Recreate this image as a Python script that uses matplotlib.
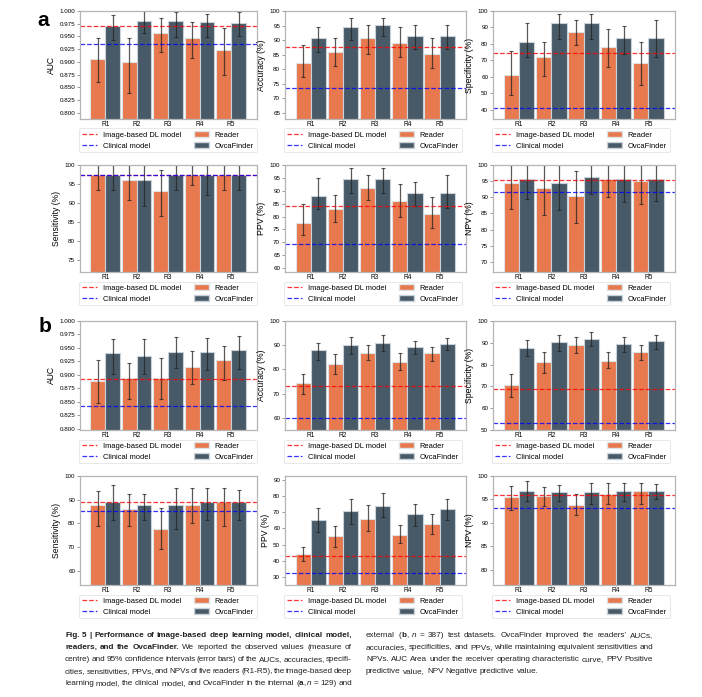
import numpy as np
import matplotlib
matplotlib.use("Agg")
import matplotlib.pyplot as plt
from matplotlib.transforms import IdentityTransform
from matplotlib.lines import Line2D
from matplotlib.patches import Patch

plt.rcParams["font.family"] = ["Liberation Sans", "DejaVu Sans"]

readers = ["R1", "R2", "R3", "R4", "R5"]

# ---- internal test set (a), n = 129 ----
a_auc_reader = [0.906, 0.900, 0.957, 0.946, 0.924]
a_auc_reader_lo = [0.860, 0.839, 0.919, 0.907, 0.874]
a_auc_reader_hi = [0.946, 0.946, 0.987, 0.978, 0.967]
a_auc_ovca = [0.970, 0.980, 0.981, 0.978, 0.976]
a_auc_ovca_lo = [0.942, 0.956, 0.948, 0.948, 0.950]
a_auc_ovca_hi = [0.993, 1.000, 0.998, 0.994, 0.998]
a_auc_dl, a_auc_clin = 0.970, 0.935

a_acc_reader = [82.2, 86.0, 90.7, 89.1, 85.3]
a_acc_reader_lo = [77.3, 81.2, 85.3, 84.3, 80.5]
a_acc_reader_hi = [88.3, 90.6, 95.2, 94.6, 90.6]
a_acc_ovca = [90.7, 94.6, 95.3, 91.5, 91.5]
a_acc_ovca_lo = [86.0, 89.9, 91.4, 86.8, 86.8]
a_acc_ovca_hi = [94.5, 97.6, 97.6, 95.3, 95.3]
a_acc_dl, a_acc_clin = 87.6, 73.6

a_spec_reader = [61.0, 72.0, 87.0, 78.0, 68.3]
a_spec_reader_lo = [49.2, 60.2, 79.2, 66.0, 54.8]
a_spec_reader_hi = [75.6, 81.0, 94.4, 88.8, 81.0]
a_spec_ovca = [81.4, 92.5, 92.5, 83.3, 83.3]
a_spec_ovca_lo = [71.8, 82.8, 82.8, 73.6, 71.8]
a_spec_ovca_hi = [92.6, 98.0, 98.0, 90.8, 94.4]
a_spec_dl, a_spec_clin = 74.2, 40.7

a_sens_reader = [97.3, 96.0, 93.3, 97.3, 97.3]
a_sens_reader_lo = [93.4, 90.8, 86.7, 94.7, 93.4]
a_sens_reader_hi = [100.0, 100.0, 98.7, 100.0, 100.0]
a_sens_ovca = [97.3, 96.0, 97.3, 97.3, 97.3]
a_sens_ovca_lo = [93.4, 89.3, 93.4, 92.1, 93.4]
a_sens_ovca_hi = [100.0, 100.0, 100.0, 100.0, 100.0]
a_sens_dl, a_sens_clin = 97.3, 97.3

a_ppv_reader = [77.6, 82.8, 91.0, 85.9, 81.1]
a_ppv_reader_lo = [73.0, 77.8, 86.3, 80.0, 75.4]
a_ppv_reader_hi = [85.0, 88.2, 96.0, 92.5, 87.5]
a_ppv_ovca = [88.0, 94.7, 94.7, 89.0, 89.0]
a_ppv_ovca_lo = [83.0, 89.0, 89.0, 84.0, 83.2]
a_ppv_ovca_hi = [95.0, 98.8, 98.8, 93.6, 96.0]
a_ppv_dl, a_ppv_clin = 84.0, 69.5

a_npv_reader = [94.3, 92.9, 90.3, 95.6, 94.9]
a_npv_reader_lo = [86.4, 84.4, 82.0, 90.0, 87.8]
a_npv_reader_hi = [100.0, 100.0, 98.0, 100.0, 100.0]
a_npv_ovca = [95.7, 94.3, 96.3, 95.7, 95.7]
a_npv_ovca_lo = [89.6, 86.2, 91.0, 88.4, 89.0]
a_npv_ovca_hi = [100.0, 100.0, 100.0, 100.0, 100.0]
a_npv_dl, a_npv_clin = 95.3, 91.7

# ---- external test set (b), n = 387 ----
b_auc_reader = [0.888, 0.894, 0.894, 0.915, 0.927]
b_auc_reader_lo = [0.848, 0.855, 0.855, 0.883, 0.890]
b_auc_reader_hi = [0.928, 0.922, 0.932, 0.945, 0.954]
b_auc_ovca = [0.941, 0.935, 0.942, 0.943, 0.946]
b_auc_ovca_lo = [0.902, 0.902, 0.913, 0.909, 0.911]
b_auc_ovca_hi = [0.967, 0.967, 0.971, 0.969, 0.972]
b_auc_dl, b_auc_clin = 0.893, 0.842

b_acc_reader = [74.2, 82.4, 86.8, 83.0, 86.6]
b_acc_reader_lo = [70.0, 78.0, 83.8, 79.6, 83.4]
b_acc_reader_hi = [78.0, 86.2, 90.0, 86.8, 89.4]
b_acc_ovca = [88.0, 89.9, 91.0, 89.4, 90.4]
b_acc_ovca_lo = [83.8, 86.2, 87.6, 86.4, 88.0]
b_acc_ovca_hi = [91.0, 93.4, 94.2, 91.8, 92.8]
b_acc_dl, b_acc_clin = 73.0, 60.0

b_spec_reader = [70.6, 81.3, 89.1, 81.6, 86.0]
b_spec_reader_lo = [65.0, 76.0, 85.2, 78.4, 82.0]
b_spec_reader_hi = [75.6, 85.8, 92.6, 86.0, 89.2]
b_spec_ovca = [87.6, 90.5, 91.8, 89.5, 90.8]
b_spec_ovca_lo = [83.8, 86.4, 88.4, 85.7, 87.2]
b_spec_ovca_hi = [91.2, 93.6, 95.0, 92.6, 93.6]
b_spec_dl, b_spec_clin = 68.7, 53.4

b_sens_reader = [87.7, 86.3, 77.8, 87.7, 89.0]
b_sens_reader_lo = [79.0, 79.0, 69.2, 80.2, 79.0]
b_sens_reader_hi = [93.8, 92.6, 86.4, 95.1, 95.1]
b_sens_ovca = [89.0, 87.7, 87.7, 89.0, 89.0]
b_sens_ovca_lo = [81.5, 81.5, 77.8, 81.5, 81.5]
b_sens_ovca_hi = [96.3, 92.6, 95.1, 95.1, 94.0]
b_sens_dl, b_sens_clin = 89.0, 85.2

b_ppv_reader = [44.0, 55.0, 65.6, 56.0, 62.5]
b_ppv_reader_lo = [39.8, 48.2, 58.4, 51.2, 56.5]
b_ppv_reader_hi = [48.8, 61.4, 74.2, 62.0, 69.0]
b_ppv_ovca = [65.5, 71.0, 74.0, 69.2, 72.0]
b_ppv_ovca_lo = [57.6, 62.6, 67.0, 61.4, 65.0]
b_ppv_ovca_hi = [72.8, 78.2, 82.0, 75.2, 78.2]
b_ppv_dl, b_ppv_clin = 43.0, 32.7

b_npv_reader = [95.6, 95.8, 93.8, 96.2, 96.7]
b_npv_reader_lo = [92.8, 93.6, 91.6, 94.0, 94.0]
b_npv_reader_hi = [97.8, 97.7, 96.2, 98.4, 98.5]
b_npv_ovca = [96.8, 96.5, 96.6, 96.8, 96.8]
b_npv_ovca_lo = [94.6, 94.6, 94.0, 94.6, 95.0]
b_npv_ovca_hi = [98.9, 98.0, 98.5, 98.5, 98.3]
b_npv_dl, b_npv_clin = 96.0, 93.1

READER_COLOR = "#E8784D"
OVCA_COLOR = "#485A68"

W, H = 702, 697
fig = plt.figure(figsize=(W / 100, H / 100), dpi=100)


def px_axes(x0, y0, x1, y1):
    return fig.add_axes([x0 / W, 1 - y1 / H, (x1 - x0) / W, (y1 - y0) / H])


def panel(ax, reader, rlo, rhi, ovca, olo, ohi, dl, clin, ylabel, ylim, yticks, fmt):
    x = np.arange(len(readers))
    w = 0.47
    reader = np.array(reader)
    ovca = np.array(ovca)
    rerr = [reader - np.array(rlo), np.array(rhi) - reader]
    oerr = [ovca - np.array(olo), np.array(ohi) - ovca]
    ax.bar(x - w / 2, reader, w, color=READER_COLOR, edgecolor="#dde3e6", linewidth=0.8)
    ax.bar(x + w / 2, ovca, w, color=OVCA_COLOR, edgecolor="#c9d2d8", linewidth=0.8)
    ekw = dict(fmt="none", ecolor="#222222", elinewidth=0.9, capsize=1.6, capthick=0.8, alpha=0.75)
    ax.errorbar(x - w / 2, reader, yerr=rerr, **ekw)
    ax.errorbar(x + w / 2, ovca, yerr=oerr, **ekw)
    ax.axhline(dl, color="red", ls="--", lw=0.9, alpha=0.8)
    ax.axhline(clin, color="blue", ls="--", lw=0.9, alpha=0.8)
    ax.set_xlim(-0.8, 4.82)
    ax.set_ylim(*ylim)
    ax.set_yticks(yticks)
    ax.set_yticklabels([fmt.format(v) for v in yticks])
    ax.set_xticks(x)
    ax.set_xticklabels(readers)
    ax.tick_params(axis="y", labelsize=4.5, length=2, width=0.6, color="#888888", pad=1.5)
    ax.tick_params(axis="x", labelsize=4.7, length=1, width=0.6, color="#888888", pad=0.6)
    ax.set_ylabel(ylabel, fontsize=6.2, labelpad=2.5)
    for s in ax.spines.values():
        s.set_color("#b5b5b5")
        s.set_linewidth(0.9)
    handles = [
        Line2D([], [], color="red", ls="--", lw=0.9, alpha=0.8),
        Line2D([], [], color="blue", ls="--", lw=0.9, alpha=0.8),
        Patch(facecolor=READER_COLOR, edgecolor="#dde3e6"),
        Patch(facecolor=OVCA_COLOR, edgecolor="#c9d2d8"),
    ]
    labels = ["Image-based DL model", "Clinical model", "Reader", "OvcaFinder"]
    h_ax = ax.get_position().height * H
    w_ax = ax.get_position().width * W
    leg = ax.legend(handles, labels, ncol=2, loc="upper left",
                    bbox_to_anchor=(-1.0 / w_ax, -9.5 / h_ax), fontsize=5.4,
                    handlelength=2.0, handleheight=0.9, handletextpad=0.8,
                    labelspacing=0.4, columnspacing=1.7, borderpad=0.35,
                    borderaxespad=0, frameon=True, fancybox=True)
    leg.get_frame().set_edgecolor("#dddddd")
    leg.get_frame().set_linewidth(0.6)


cols = [(80, 257), (285, 466), (493, 675)]
rows = [(11, 119), (165, 272), (321, 430), (476, 585)]

auc_ticks = np.arange(0.8, 1.0001, 0.025)
specs = [
    # row, col, data, label, ylim, ticks, fmt
    (0, 0, (a_auc_reader, a_auc_reader_lo, a_auc_reader_hi, a_auc_ovca, a_auc_ovca_lo, a_auc_ovca_hi, a_auc_dl, a_auc_clin),
     "AUC", (0.7875, 1.0), auc_ticks, "{:.3f}"),
    (0, 1, (a_acc_reader, a_acc_reader_lo, a_acc_reader_hi, a_acc_ovca, a_acc_ovca_lo, a_acc_ovca_hi, a_acc_dl, a_acc_clin),
     "Accuracy (%)", (62.8, 100), np.arange(65, 101, 5), "{:.0f}"),
    (0, 2, (a_spec_reader, a_spec_reader_lo, a_spec_reader_hi, a_spec_ovca, a_spec_ovca_lo, a_spec_ovca_hi, a_spec_dl, a_spec_clin),
     "Specificity (%)", (34.3, 100), np.arange(40, 101, 10), "{:.0f}"),
    (1, 0, (a_sens_reader, a_sens_reader_lo, a_sens_reader_hi, a_sens_ovca, a_sens_ovca_lo, a_sens_ovca_hi, a_sens_dl, a_sens_clin),
     "Sensitivity (%)", (71.9, 100), np.arange(75, 101, 5), "{:.0f}"),
    (1, 1, (a_ppv_reader, a_ppv_reader_lo, a_ppv_reader_hi, a_ppv_ovca, a_ppv_ovca_lo, a_ppv_ovca_hi, a_ppv_dl, a_ppv_clin),
     "PPV (%)", (58.5, 100), np.arange(60, 101, 5), "{:.0f}"),
    (1, 2, (a_npv_reader, a_npv_reader_lo, a_npv_reader_hi, a_npv_ovca, a_npv_ovca_lo, a_npv_ovca_hi, a_npv_dl, a_npv_clin),
     "NPV (%)", (66.9, 100), np.arange(70, 101, 5), "{:.0f}"),
    (2, 0, (b_auc_reader, b_auc_reader_lo, b_auc_reader_hi, b_auc_ovca, b_auc_ovca_lo, b_auc_ovca_hi, b_auc_dl, b_auc_clin),
     "AUC", (0.798, 1.0), auc_ticks, "{:.3f}"),
    (2, 1, (b_acc_reader, b_acc_reader_lo, b_acc_reader_hi, b_acc_ovca, b_acc_ovca_lo, b_acc_ovca_hi, b_acc_dl, b_acc_clin),
     "Accuracy (%)", (55, 100), np.arange(60, 101, 10), "{:.0f}"),
    (2, 2, (b_spec_reader, b_spec_reader_lo, b_spec_reader_hi, b_spec_ovca, b_spec_ovca_lo, b_spec_ovca_hi, b_spec_dl, b_spec_clin),
     "Specificity (%)", (50, 100), np.arange(50, 101, 10), "{:.0f}"),
    (3, 0, (b_sens_reader, b_sens_reader_lo, b_sens_reader_hi, b_sens_ovca, b_sens_ovca_lo, b_sens_ovca_hi, b_sens_dl, b_sens_clin),
     "Sensitivity (%)", (54.1, 100), np.arange(60, 101, 10), "{:.0f}"),
    (3, 1, (b_ppv_reader, b_ppv_reader_lo, b_ppv_reader_hi, b_ppv_ovca, b_ppv_ovca_lo, b_ppv_ovca_hi, b_ppv_dl, b_ppv_clin),
     "PPV (%)", (25, 92.4), np.arange(30, 91, 10), "{:.0f}"),
    (3, 2, (b_npv_reader, b_npv_reader_lo, b_npv_reader_hi, b_npv_ovca, b_npv_ovca_lo, b_npv_ovca_hi, b_npv_dl, b_npv_clin),
     "NPV (%)", (76.7, 100), np.arange(80, 101, 5), "{:.0f}"),
]

for r, c, data, ylabel, ylim, ticks, fmt in specs:
    x0, x1 = cols[c]
    y0, y1 = rows[r]
    ax = px_axes(x0, y0, x1, y1)
    panel(ax, *data, ylabel, ylim, ticks, fmt)

fig.text(37 / W, 1 - 20 / H, "a", fontsize=15, fontweight="bold", va="center")
fig.text(39 / W, 1 - 326 / H, "b", fontsize=15, fontweight="bold", va="center")

# caption: justified lines with mixed weights
renderer = fig.canvas.get_renderer()
CAP = 5.9
COL_W = 287


def run_width(text, weight, style):
    t1 = fig.text(0, 0, text + "|", fontsize=CAP, fontweight=weight, fontstyle=style,
                  transform=IdentityTransform())
    t2 = fig.text(0, 0, "|", fontsize=CAP, fontweight=weight, fontstyle=style,
                  transform=IdentityTransform())
    w = t1.get_window_extent(renderer).width - t2.get_window_extent(renderer).width
    t1.remove()
    t2.remove()
    return w


def caption_line(x, y, runs, justify=True):
    words = [[]]
    for text, weight, style in runs:
        for k, part in enumerate(text.split(" ")):
            if k > 0:
                words.append([])
            if part:
                words[-1].append((part, weight, style))
    words = [wd for wd in words if wd]
    widths = [sum(run_width(*p) for p in wd) for wd in words]
    gap = run_width(" ", "normal", "normal")
    if justify and len(words) > 1:
        gap = (COL_W - sum(widths)) / (len(words) - 1)
    for wd, ww in zip(words, widths):
        xx = x
        for part, weight, style in wd:
            fig.text(xx, H - y, part, fontsize=CAP, fontweight=weight, fontstyle=style,
                     transform=IdentityTransform(), va="baseline", color="#231f20")
            xx += run_width(part, weight, style)
        x += ww + gap


N, B, I = ("normal", "normal"), ("bold", "normal"), ("normal", "italic")
left = [
    [("Fig. 5 | Performance of image-based deep learning model, clinical model,",) + B],
    [("readers, and the OvcaFinder.",) + B, (" We reported the observed values (measure of",) + N],
    [("centre) and 95% confidence intervals (error bars) of the AUCs, accuracies, specifi-",) + N],
    [("cities, sensitivities, PPVs, and NPVs of five readers (R1-R5), the image-based deep",) + N],
    [("learning model, the clinical model, and OvcaFinder in the internal (",) + N, ("a",) + B,
     (",",) + N, (" ",) + N, ("n",) + I, (" = 129) and",) + N],
]
right = [
    [("external (",) + N, ("b",) + B, (",",) + N, (" ",) + N, ("n",) + I,
     (" = 387) test datasets. OvcaFinder improved the readers\u2019 AUCs,",) + N],
    [("accuracies, specificities, and PPVs, while maintaining equivalent sensitivities and",) + N],
    [("NPVs. AUC Area under the receiver operating characteristic curve, PPV Positive",) + N],
    [("predictive value, NPV Negative predictive value.",) + N],
]
for i, runs in enumerate(left):
    caption_line(65, 637 + 12 * i, runs)
for i, runs in enumerate(right):
    caption_line(366, 637 + 12 * i, runs, justify=(i < len(right) - 1))

fig.savefig("out.png", dpi=100)
